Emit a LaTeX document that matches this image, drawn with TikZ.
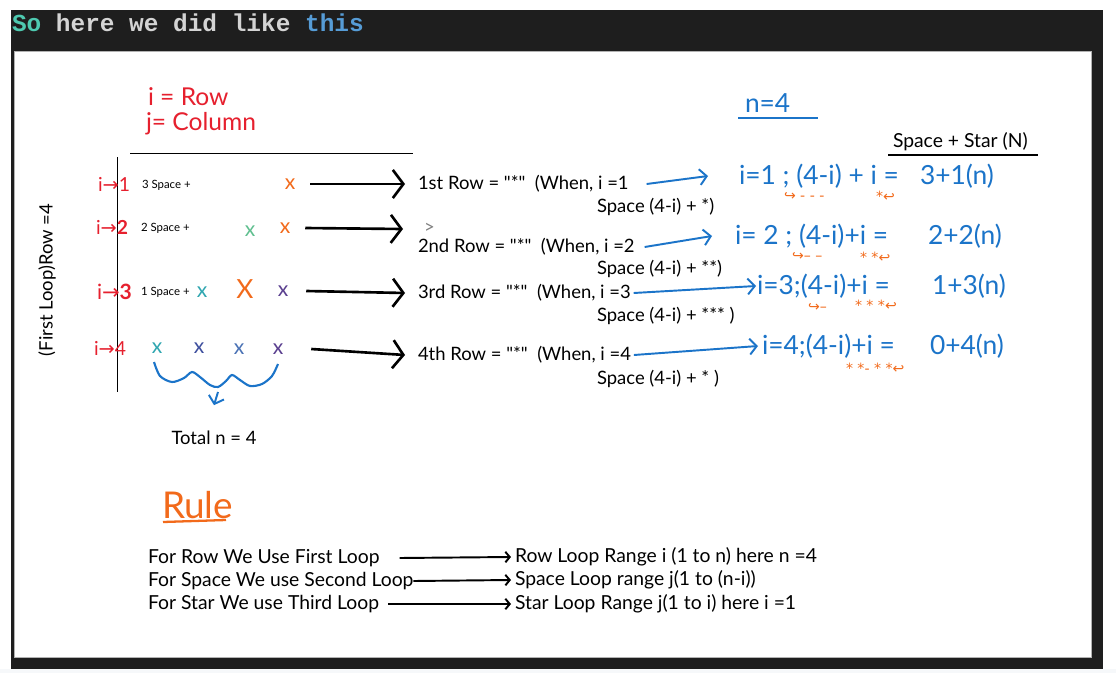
\documentclass[tikz,border=0pt]{standalone}
\usepackage{fontspec}
\setmainfont{Lato}
\newfontfamily\codefont{Liberation Mono}
\newfontfamily\symfont{DejaVu Sans}
\usetikzlibrary{arrows.meta,positioning}
\definecolor{codebg}{HTML}{1E1E1E}
\definecolor{pagebg}{HTML}{F6F8FA}
\definecolor{cTeal}{HTML}{4EC9B0}
\definecolor{cGrey}{HTML}{D4D4D4}
\definecolor{cCode}{HTML}{569CD6}
\definecolor{cRed}{HTML}{E6202E}
\definecolor{cBlue}{HTML}{1B74C9}
\definecolor{cOrange}{HTML}{F26A1B}
\definecolor{cGreen}{HTML}{5FBF8F}
\definecolor{cCyan}{HTML}{2FA6B0}
\definecolor{cIndigo}{HTML}{3E4F9E}
\definecolor{cSteel}{HTML}{4A72B5}
\definecolor{cPurple}{HTML}{5A3F8F}

\begin{document}
\begin{tikzpicture}[
        x=0.02cm, y=-0.02cm,
        every node/.style={inner sep=0pt, outer sep=0pt},
        redtxt/.style={text=cRed, font=\fontsize{14}{16}\selectfont},
        smalltxt/.style={font=\fontsize{6.5}{8}\selectfont},
        rowtxt/.style={font=\fontsize{10.5}{12}\selectfont},
        bluetxt/.style={text=cBlue, font=\fontsize{15}{17}\selectfont},
        orangetxt/.style={text=cOrange, font=\symfont\fontsize{8}{10}\selectfont},
        ruletxt/.style={font=\fontsize{11}{13}\selectfont},
        xmark/.style={text=#1, font=\fontsize{12}{14}\selectfont},
        harrow/.style={line width=1.5pt, -{Straight Barb[length=6pt, width=16pt]}},
        barrow/.style={cBlue, line width=1.1pt, -{Straight Barb[length=4pt, width=9pt]}},
        rarrow/.style={line width=1.1pt, -{Straight Barb[length=2.5pt, width=6pt]}}
    ]
    \useasboundingbox (0,0) rectangle (1116,673);
    % screen frame
    \fill[white] (0,0) rectangle (1116,673);
    \fill[pagebg] (0,669) rectangle (1116,673);
    \fill[codebg] (11,10) rectangle (1103,669);
    \filldraw[fill=white, draw=gray!60] (14,51) rectangle (1091,657);
    \node[anchor=west, font=\codefont\bfseries\fontsize{13.9}{16}\selectfont] (title) at (12,23)
        {\textcolor{cTeal}{So} \textcolor{cGrey}{here we did like} \textcolor{cCode}{this}};

    % definitions
    \node[redtxt, anchor=west] (rowdef) at (148,97) {i = Row};
    \node[redtxt, anchor=west] (coldef) at (146,124) {j= Column};
    \draw (130,153) -- (413,153);
    \draw (117,157) -- (117,392);
    \node[rowtxt, rotate=90] (looplbl) at (47,280) {(First Loop)Row =4};

    % rows of the pattern
    \node[redtxt, anchor=west, font=\fontsize{11}{13}\selectfont] (i1) at (98,184) {i{\symfont→}1};
    \node[redtxt, anchor=west, font=\fontsize{11}{13}\selectfont] (i2) at (96,227) {i{\symfont→}\textbf{2}};
    \node[redtxt, anchor=west, font=\fontsize{12}{14}\selectfont] (i3) at (97,292) {i{\symfont→}\textbf{3}};
    \node[redtxt, anchor=west, font=\fontsize{11}{13}\selectfont] (i4) at (94,348) {i{\symfont→}4};
    \node[smalltxt, anchor=west] (sp1) at (142,185) {3 Space +};
    \node[smalltxt, anchor=west] (sp2) at (141,228) {2 Space +};
    \node[smalltxt, anchor=west] (sp3) at (141,292) {1 Space +};

    \node[xmark=cOrange] (x11) at (290,184) {x};
    \node[xmark=cGreen] (x21) at (250,231) {x};
    \node[xmark=cOrange] (x22) at (285,228) {x};
    \node[xmark=cCyan] (x31) at (202,292) {x};
    \node[xmark=cOrange, font=\fontsize{15}{17}\selectfont] (x32) at (245,289) {X};
    \node[xmark=cPurple] (x33) at (283,291) {x};
    \node[xmark=cCyan] (x41) at (157,348) {x};
    \node[xmark=cIndigo] (x42) at (199,348) {x};
    \node[xmark=cSteel] (x43) at (239,349) {x};
    \node[xmark=cPurple] (x44) at (278,349) {x};

    \draw[cBlue, line width=1.2pt] plot[smooth] coordinates {(154,362) (160,376) (172,382) (184,378)
        (192,372) (200,377) (210,385) (218,387) (226,381) (232,375) (240,380) (250,386) (262,384)
        (272,376) (278,364)};
    \coordinate (bracebot) at (218,392);
    \node[rowtxt] (total) at (214,438) {Total n = 4};
    \draw[barrow] (bracebot) -- ([yshift=0.52cm]total.north);

    % row descriptions
    \node[rowtxt, anchor=west] (r1) at (418,184) {1st Row = \textquotedbl*\textquotedbl~~(When, i =1};
    \node[rowtxt, anchor=west] (s1) at (597,207) {Space (4-i) + *)};
    \node[rowtxt, anchor=west, text=gray] (stray) at (424,228) {>};
    \node[rowtxt, anchor=west] (r2) at (418,247) {2nd Row = \textquotedbl*\textquotedbl~~(When, i =2};
    \node[rowtxt, anchor=west] (s2) at (597,269) {Space (4-i) + **)};
    \node[rowtxt, anchor=west] (r3) at (418,293) {3rd Row = \textquotedbl*\textquotedbl~~(When, i =3};
    \node[rowtxt, anchor=west] (s3) at (597,316) {Space (4-i) + *** )};
    \node[rowtxt, anchor=west] (r4) at (418,355) {4th Row = \textquotedbl*\textquotedbl~~(When, i =4};
    \node[rowtxt, anchor=west] (s4) at (597,379) {Space (4-i) + * )};

    \draw[harrow] ([xshift=0.3cm]x11.east) -- ([xshift=-0.26cm]r1.west);
    \draw[harrow] ([xshift=0.3cm]x22.east) -- ([xshift=-0.3cm,yshift=0.36cm]r2.west);
    \draw[harrow] ([xshift=0.36cm]x33.east) -- ([xshift=-0.26cm]r3.west);
    \draw[harrow] ([xshift=0.56cm]x44.east) -- ([xshift=-0.26cm]r4.west);

    % formulas
    \node[bluetxt, anchor=west] (nval) at (745,103) {n=4};
    \draw[cBlue, line width=1.1pt] (738,118) -- (818,118);
    \node[rowtxt, anchor=west, font=\fontsize{11}{13}\selectfont] (hdr) at (893,142) {Space + Star (N)};
    \draw[line width=1.1pt] (888,155) -- (1038,155);

    \node[bluetxt, anchor=west] (f1) at (739,176) {i=1 ; (4-i) + i =};
    \node[bluetxt, anchor=west] (f2) at (735,236) {i= 2 ; (4-i)+i =};
    \node[bluetxt, anchor=west] (f3) at (757,286) {i=3;(4-i)+i =};
    \node[bluetxt, anchor=west] (f4) at (762,346) {i=4;(4-i)+i =};
    \node[bluetxt, anchor=west] (n1) at (920,176) {3+1(n)};
    \node[bluetxt, anchor=west] (n2) at (928,236) {2+2(n)};
    \node[bluetxt, anchor=west] (n3) at (932,286) {1+3(n)};
    \node[bluetxt, anchor=west] (n4) at (930,346) {0+4(n)};

    \draw[barrow] ([xshift=0.36cm]r1.east) -- ([xshift=-0.62cm]f1.west);
    \draw[barrow] ([xshift=0.2cm]r2.east) -- ([xshift=-0.46cm]f2.west);
    \draw[barrow] ([xshift=0.06cm]r3.east) -- ([xshift=-0.02cm]f3.west);
    \draw[barrow] ([xshift=0.06cm]r4.east) -- ([xshift=-0.08cm]f4.west);

    % orange notes under the formulas
    \node[orangetxt, anchor=west] (o1a) at (784,197) {↪ - - -};
    \node[orangetxt, anchor=west] (o1b) at (876,196) {*↩};
    \node[orangetxt, anchor=west] (o2a) at (792,257) {↪– –};
    \node[orangetxt, anchor=west] (o2b) at (860,257) {* *↩};
    \node[orangetxt, anchor=west] (o3a) at (808,308) {↪–};
    \node[orangetxt, anchor=west] (o3b) at (855,305) {* * *↩};
    \node[orangetxt, anchor=west] (o4b) at (846,368) {* *- * *↩};

    % rule
    \node[anchor=west, text=cOrange, font=\fontsize{21}{24}\selectfont] (rule) at (162,505) {Rule};
    \draw[cOrange, line width=1.3pt] (163,522) -- (226,520);

    \node[ruletxt, anchor=west] (l1) at (148,558) {For Row We Use First Loop};
    \node[ruletxt, anchor=west] (l2) at (148,581) {For Space We use Second Loop};
    \node[ruletxt, anchor=west] (l3) at (148,604) {For Star We use Third Loop};
    \node[ruletxt, anchor=west] (q1) at (515,557) {Row Loop Range i (1 to n) here n =4};
    \node[ruletxt, anchor=west] (q2) at (515,580) {Space Loop range j(1 to (n-i))};
    \node[ruletxt, anchor=west] (q3) at (515,604) {Star Loop Range j(1 to i) here i =1};

    \draw[rarrow] ([xshift=0.4cm]l1.east) -- ([xshift=-0.08cm]q1.west);
    \draw[rarrow] (l2.east) -- ([xshift=-0.08cm]q2.west);
    \draw[rarrow] ([xshift=0.18cm]l3.east) -- ([xshift=-0.08cm]q3.west);
\end{tikzpicture}
\end{document}
